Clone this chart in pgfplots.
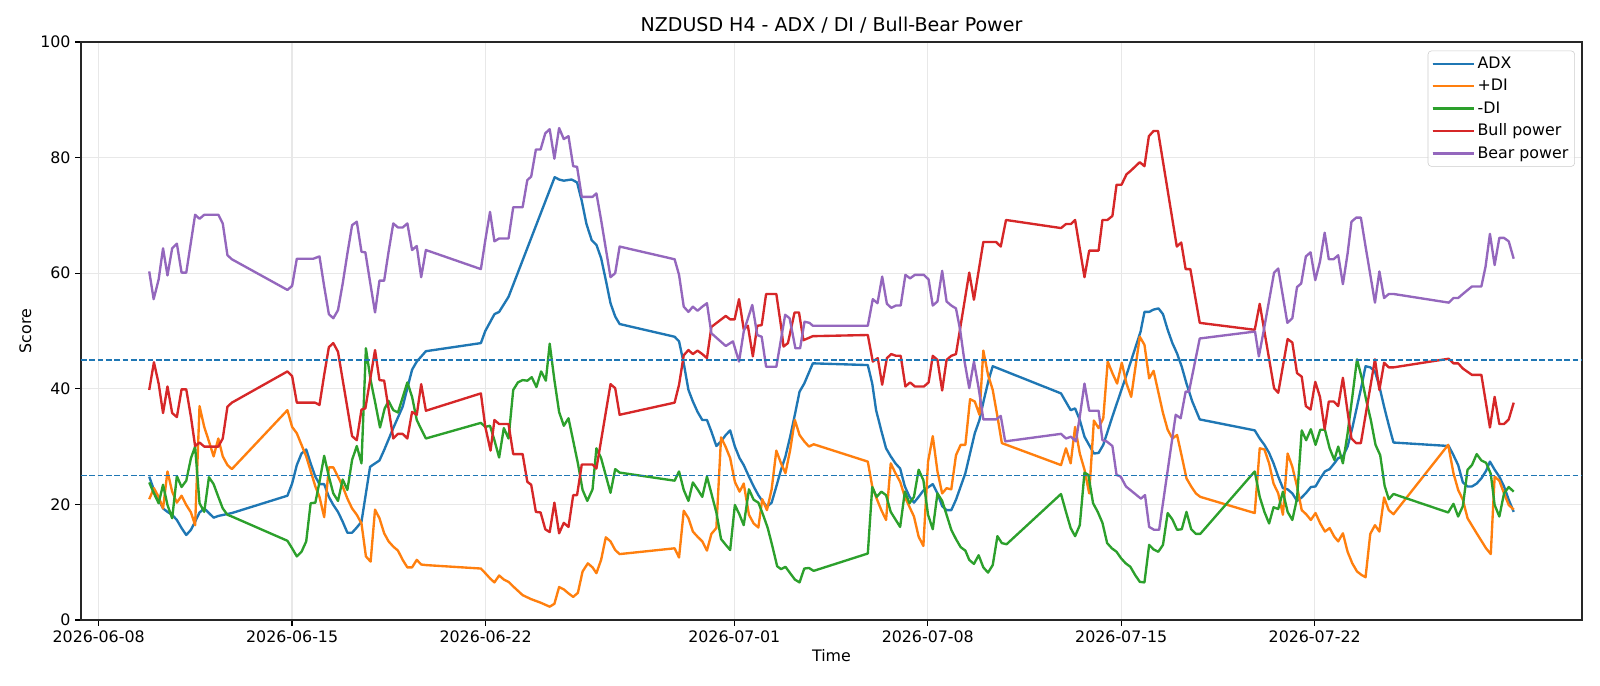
\documentclass[border=0pt]{standalone}
\usepackage{fontspec}
\setmainfont{DejaVu Sans}
\usepackage{pgfplots}
\pgfplotsset{compat=1.18}
\definecolor{tabblue}{HTML}{1F77B4}
\definecolor{taborange}{HTML}{FF7F0E}
\definecolor{tabgreen}{HTML}{2CA02C}
\definecolor{tabred}{HTML}{D62728}
\definecolor{tabpurple}{HTML}{9467BD}
\begin{document}
\begin{tikzpicture}
\useasboundingbox (-58.3pt,-47.5pt) rectangle (1093.7pt,446.4pt);
\begin{axis}[
  at={(0,0)}, anchor=south west,
  scale only axis, width=1080.7pt, height=416.2pt,
  xmin=-0.64, xmax=53.67, ymin=0, ymax=100,
  xtick={0,7,14,23,30,37,44},
  xticklabels={2026-06-08,2026-06-15,2026-06-22,2026-07-01,2026-07-08,2026-07-15,2026-07-22},
  ytick={0,20,40,60,80,100},
  tick pos=left, tick align=outside, major tick length=4pt,
  every tick/.style={black, line width=0.9pt},
  grid=major, major grid style={draw=black!9, line width=0.9pt},
  axis line style={line width=0.9pt, draw=black!85},
  ticklabel style={font=\fontsize{11.4}{13.7}\selectfont},
  /pgf/number format/assume math mode=true,
  every axis title shift=0pt,
  title={NZDUSD H4 - ADX / DI / Bull-Bear Power},
  title style={font=\fontsize{13.7}{16.4}\selectfont, at={(axis description cs:0.5,1.0286)}, anchor=center},
  xlabel={Time}, ylabel={Score},
  xlabel style={font=\fontsize{11.4}{13.7}\selectfont, at={(axis description cs:0.5,-0.0623)}, anchor=center},
  ylabel style={font=\fontsize{11.4}{13.7}\selectfont, at={(axis description cs:-0.037,0.5)}, anchor=center, rotate=0},
  legend style={at={(axis description cs:0.9953,0.985)}, anchor=north east,
    draw=black!20, rounded corners=2.5pt, fill=white, fill opacity=0.8, text opacity=1, draw opacity=1,
    font=\fontsize{11.4}{13.7}\selectfont, row sep=2.2pt, inner xsep=2.5pt, inner ysep=2.5pt},
  legend cell align=left,
  legend image code/.code={\draw[#1] (0pt,0pt) -- (25pt,0pt); \path (0pt,0pt) -- (29.5pt,0pt);},
  every axis plot/.append style={line width=1.7pt, line join=round},
]
\addplot[tabblue] coordinates {(1.83,24.8) (2.00,22.5) (2.17,20.8) (2.33,19.3) (2.49,18.7) (2.66,18.2) (2.83,17.3) (3.00,15.9) (3.17,14.7) (3.34,15.6) (3.49,17.0) (3.65,18.6) (3.82,19.3) (3.99,18.5) (4.16,17.7) (4.33,18.0) (4.82,18.5) (6.83,21.5) (7.00,23.6) (7.17,26.8) (7.34,28.8) (7.51,29.5) (7.67,27.1) (7.84,24.8) (7.99,23.5) (8.16,23.5) (8.33,21.3) (8.49,19.9) (8.66,18.7) (8.83,17.0) (9.00,15.1) (9.17,15.1) (9.34,16.0) (9.51,17.0) (9.82,26.5) (10.16,27.6) (10.33,29.4) (10.66,33.2) (11.00,36.9) (11.34,43.3) (11.51,44.7) (11.84,46.5) (13.83,47.9) (13.99,50.0) (14.32,52.9) (14.49,53.3) (14.66,54.6) (14.83,55.9) (16.50,76.6) (16.66,76.2) (16.83,76.0) (17.11,76.2) (17.31,75.7) (17.48,72.5) (17.65,68.5) (17.84,65.7) (18.01,64.9) (18.18,62.6) (18.35,58.8) (18.52,54.8) (18.69,52.5) (18.85,51.2) (20.84,49.0) (21.00,48.2) (21.17,44.4) (21.34,39.8) (21.50,37.8) (21.67,36.0) (21.84,34.6) (22.01,34.6) (22.17,32.6) (22.35,30.1) (22.52,30.9) (22.69,32.0) (22.85,32.8) (23.02,30.0) (23.19,28.0) (23.34,26.8) (23.53,24.8) (23.70,23.1) (23.87,21.6) (24.01,20.6) (24.18,19.6) (24.35,20.3) (24.52,23.1) (24.69,26.0) (24.85,28.3) (25.02,31.7) (25.19,35.5) (25.36,39.5) (25.53,40.9) (25.84,44.4) (27.83,44.1) (27.99,40.9) (28.13,36.3) (28.31,32.9) (28.49,29.7) (28.66,28.3) (28.83,27.1) (29.00,26.2) (29.17,23.1) (29.34,21.3) (29.50,20.3) (29.67,21.3) (29.84,22.4) (30.18,23.5) (30.35,21.9) (30.52,19.7) (30.68,19.0) (30.85,19.0) (31.02,20.8) (31.19,23.1) (31.36,25.4) (31.70,32.3) (31.87,34.6) (32.03,38.1) (32.20,41.5) (32.35,43.9) (34.82,39.2) (35.17,36.3) (35.33,36.6) (35.50,34.6) (35.67,31.7) (36.01,28.8) (36.18,28.9) (36.35,30.3) (36.68,35.2) (37.19,42.4) (37.70,49.9) (37.84,53.3) (38.01,53.3) (38.17,53.7) (38.35,53.9) (38.51,52.9) (38.68,50.2) (38.85,47.9) (39.02,46.1) (39.19,43.8) (39.36,40.9) (39.57,37.8) (39.84,34.7) (41.83,32.8) (42.01,31.4) (42.18,30.3) (42.35,28.9) (42.51,27.1) (42.68,24.8) (42.85,22.8) (43.02,22.6) (43.19,21.9) (43.36,20.6) (43.53,21.2) (43.69,22.0) (43.86,23.0) (44.03,23.1) (44.20,24.5) (44.37,25.7) (44.54,26.1) (44.71,27.1) (44.85,28.0) (45.02,28.3) (45.19,30.0) (45.36,33.2) (45.53,36.9) (45.69,40.4) (45.84,43.9) (46.01,43.7) (46.18,43.0) (46.34,40.4) (46.51,36.9) (46.68,33.7) (46.85,30.7) (48.85,30.1) (49.02,28.5) (49.19,26.8) (49.36,23.8) (49.53,23.1) (49.69,23.1) (49.86,23.6) (50.03,24.5) (50.20,25.8) (50.34,27.4) (50.51,26.0) (50.68,24.8) (50.85,23.1) (51.02,20.8) (51.20,18.7)};
\addlegendentry{ADX}
\addplot[taborange] coordinates {(1.83,20.9) (2.00,22.8) (2.17,21.3) (2.33,19.3) (2.49,25.7) (2.66,22.2) (2.83,20.3) (3.00,21.5) (3.17,19.9) (3.34,18.6) (3.49,16.4) (3.65,37.0) (3.82,33.4) (3.99,30.9) (4.16,28.3) (4.33,31.4) (4.49,28.3) (4.66,26.8) (4.82,26.1) (6.83,36.3) (7.00,33.4) (7.17,32.3) (7.34,30.3) (7.51,28.3) (7.84,23.1) (7.99,21.3) (8.16,17.8) (8.33,26.4) (8.49,26.4) (8.66,24.8) (8.83,23.1) (9.00,21.0) (9.17,19.3) (9.34,18.2) (9.51,16.7) (9.67,11.0) (9.84,10.1) (10.00,19.1) (10.16,17.6) (10.33,15.0) (10.49,13.6) (10.66,12.7) (10.83,12.0) (11.00,10.4) (11.17,9.1) (11.34,9.1) (11.51,10.4) (11.67,9.6) (11.84,9.5) (13.83,8.9) (13.99,8.1) (14.16,7.2) (14.32,6.5) (14.49,7.7) (14.66,7.0) (14.83,6.6) (15.00,5.8) (15.34,4.3) (15.65,3.6) (15.99,3.0) (16.32,2.3) (16.49,2.8) (16.66,5.7) (16.83,5.3) (17.00,4.6) (17.17,4.0) (17.34,4.7) (17.51,8.4) (17.70,9.8) (17.87,9.1) (18.01,8.1) (18.18,10.4) (18.35,14.3) (18.52,13.6) (18.69,12.1) (18.85,11.4) (20.84,12.4) (21.00,10.8) (21.17,18.9) (21.34,17.6) (21.50,15.3) (21.67,14.4) (21.84,13.6) (22.01,12.0) (22.17,14.9) (22.35,15.9) (22.52,31.6) (22.69,29.9) (22.85,28.0) (23.02,23.9) (23.19,22.2) (23.34,23.6) (23.53,18.2) (23.70,16.7) (23.87,16.0) (24.01,20.9) (24.18,19.0) (24.35,22.6) (24.52,29.3) (24.69,27.1) (24.85,25.4) (25.02,29.4) (25.19,34.6) (25.36,32.0) (25.53,30.9) (25.70,30.0) (25.87,30.4) (27.83,27.4) (27.99,23.1) (28.15,21.0) (28.32,19.0) (28.49,17.3) (28.66,27.1) (28.83,25.4) (29.00,23.9) (29.17,21.3) (29.50,17.9) (29.67,14.4) (29.84,12.8) (30.01,27.4) (30.18,31.8) (30.35,25.7) (30.52,21.9) (30.68,22.8) (30.85,22.6) (31.02,28.5) (31.19,30.3) (31.36,30.3) (31.53,38.2) (31.70,37.8) (31.87,35.5) (32.01,46.6) (32.18,42.4) (32.35,39.8) (32.52,35.2) (32.68,30.6) (34.82,26.8) (35.00,29.7) (35.17,27.1) (35.33,33.4) (35.50,28.8) (35.67,26.0) (35.84,21.9) (36.01,34.5) (36.18,33.2) (36.35,34.9) (36.51,44.7) (36.68,42.7) (36.85,40.9) (37.02,44.5) (37.19,40.9) (37.36,38.6) (37.67,49.0) (37.84,47.6) (38.01,41.8) (38.17,43.1) (38.51,35.8) (38.68,32.9) (38.85,31.4) (39.02,32.0) (39.19,28.3) (39.36,24.5) (39.53,23.1) (39.70,21.9) (39.86,21.3) (41.83,18.5) (42.01,29.7) (42.18,29.5) (42.35,27.1) (42.51,23.6) (42.68,21.9) (42.85,18.2) (43.02,28.8) (43.19,26.5) (43.36,23.1) (43.53,19.0) (43.69,18.3) (43.86,17.3) (44.03,18.5) (44.20,16.7) (44.37,15.3) (44.54,15.9) (44.71,14.4) (44.85,13.6) (45.02,15.0) (45.19,11.8) (45.36,9.8) (45.53,8.4) (45.69,7.8) (45.84,7.4) (46.01,14.9) (46.18,16.4) (46.34,15.3) (46.51,21.2) (46.68,19.0) (46.85,18.3) (48.83,30.3) (49.02,25.4) (49.19,22.5) (49.36,20.8) (49.53,17.6) (49.86,15.0) (50.20,12.4) (50.37,11.4) (50.51,24.8) (50.68,24.1) (50.85,21.9) (51.02,19.9) (51.20,19.1)};
\addlegendentry{+DI}
\addplot[tabgreen] coordinates {(1.83,23.8) (2.00,21.9) (2.17,20.2) (2.33,23.4) (2.49,19.9) (2.66,17.6) (2.83,24.9) (3.00,23.0) (3.17,24.1) (3.34,28.0) (3.49,30.0) (3.65,20.2) (3.82,18.7) (3.99,24.7) (4.16,23.5) (4.33,21.3) (4.49,19.3) (4.66,18.2) (4.82,17.9) (6.83,13.7) (7.00,12.4) (7.17,11.0) (7.34,11.8) (7.51,13.6) (7.67,20.2) (7.84,20.3) (7.99,23.9) (8.16,28.4) (8.33,24.8) (8.49,21.9) (8.66,20.6) (8.83,24.3) (9.00,22.5) (9.17,27.7) (9.34,30.1) (9.51,27.1) (9.67,47.0) (9.84,41.5) (10.01,37.5) (10.18,33.3) (10.35,36.6) (10.49,37.9) (10.66,36.3) (10.83,35.9) (11.17,41.1) (11.34,38.6) (11.51,34.6) (11.67,33.0) (11.84,31.4) (13.83,34.1) (13.99,33.4) (14.16,33.6) (14.32,31.1) (14.49,28.1) (14.66,33.2) (14.83,31.4) (15.00,39.8) (15.17,41.1) (15.34,41.5) (15.51,41.4) (15.67,42.0) (15.84,40.3) (16.01,43.0) (16.18,41.4) (16.32,47.8) (16.49,41.5) (16.66,36.0) (16.83,33.6) (17.00,34.9) (17.34,27.1) (17.51,22.5) (17.68,20.6) (17.87,22.6) (18.01,29.7) (18.18,28.0) (18.52,22.0) (18.69,26.1) (18.85,25.5) (20.84,24.1) (21.00,25.7) (21.17,22.5) (21.34,20.6) (21.50,23.8) (21.67,22.6) (21.84,21.3) (22.01,24.8) (22.17,21.9) (22.35,18.6) (22.52,14.0) (22.69,13.0) (22.85,12.1) (23.02,19.9) (23.19,18.2) (23.34,16.4) (23.53,22.6) (23.70,20.8) (23.87,20.3) (24.04,18.2) (24.21,15.9) (24.38,12.7) (24.55,9.3) (24.69,8.8) (24.85,9.2) (25.02,8.1) (25.19,7.0) (25.36,6.5) (25.53,8.9) (25.70,9.0) (25.87,8.5) (27.83,11.5) (27.99,23.0) (28.15,21.3) (28.32,22.2) (28.49,21.6) (28.66,18.7) (28.83,17.4) (29.00,16.1) (29.17,22.2) (29.34,20.2) (29.50,21.3) (29.67,26.0) (29.84,24.2) (30.01,18.2) (30.18,15.7) (30.35,21.9) (30.52,20.6) (30.68,18.2) (30.85,15.6) (31.02,14.0) (31.19,12.6) (31.36,12.0) (31.50,10.4) (31.67,9.7) (31.84,11.2) (32.01,9.1) (32.18,8.2) (32.35,9.5) (32.52,14.5) (32.68,13.3) (32.85,13.1) (34.82,21.8) (35.00,18.7) (35.17,15.9) (35.33,14.5) (35.50,16.4) (35.67,25.5) (35.81,25.1) (35.98,20.2) (36.15,18.7) (36.32,16.8) (36.49,13.3) (36.66,12.4) (36.83,11.8) (36.99,10.7) (37.16,9.8) (37.33,9.2) (37.50,7.8) (37.67,6.6) (37.84,6.5) (38.01,13.0) (38.17,12.2) (38.34,11.8) (38.51,13.0) (38.68,18.5) (38.85,17.4) (39.02,15.6) (39.19,15.7) (39.36,18.7) (39.53,15.7) (39.70,14.9) (39.86,14.9) (41.83,25.7) (42.01,21.3) (42.18,18.7) (42.35,16.7) (42.51,19.5) (42.68,19.2) (42.85,22.2) (43.02,18.7) (43.19,17.3) (43.36,21.0) (43.53,32.8) (43.69,31.1) (43.86,33.0) (44.03,30.3) (44.20,32.9) (44.37,32.9) (44.54,29.7) (44.71,27.7) (44.85,30.0) (45.02,27.1) (45.19,32.3) (45.36,38.6) (45.53,45.1) (45.69,42.1) (45.86,38.1) (46.03,34.6) (46.20,30.3) (46.37,28.5) (46.53,23.2) (46.68,20.9) (46.85,21.8) (48.83,18.6) (49.02,20.1) (49.19,17.9) (49.36,19.7) (49.53,26.0) (49.69,26.8) (49.86,28.7) (50.03,27.6) (50.20,27.2) (50.37,25.3) (50.51,19.9) (50.68,17.9) (50.85,21.9) (51.02,23.0) (51.20,22.2)};
\addlegendentry{-DI}
\addplot[tabred] coordinates {(1.83,39.8) (2.00,44.6) (2.17,40.9) (2.33,35.8) (2.49,40.4) (2.66,35.8) (2.83,35.1) (3.00,39.9) (3.17,39.9) (3.34,35.1) (3.49,30.1) (3.65,30.7) (3.82,30.0) (4.33,30.0) (4.49,31.4) (4.66,36.9) (4.82,37.6) (6.83,43.0) (7.00,42.2) (7.17,37.6) (7.83,37.6) (7.99,37.2) (8.16,42.4) (8.33,47.2) (8.49,47.9) (8.66,46.4) (9.17,31.8) (9.34,31.1) (9.51,36.4) (9.65,36.6) (9.82,41.5) (10.00,46.7) (10.16,41.5) (10.33,41.4) (10.66,31.4) (10.83,32.2) (11.00,32.2) (11.17,31.4) (11.34,36.0) (11.51,35.5) (11.67,40.8) (11.84,36.2) (13.83,39.2) (13.99,33.4) (14.18,29.3) (14.32,34.6) (14.49,33.9) (14.83,33.9) (15.00,28.7) (15.34,28.7) (15.51,23.9) (15.65,23.4) (15.82,18.7) (15.99,18.6) (16.16,15.7) (16.32,15.2) (16.49,20.3) (16.66,15.0) (16.83,16.8) (17.00,16.1) (17.17,21.6) (17.31,21.6) (17.48,26.9) (17.87,26.9) (18.01,26.2) (18.52,40.8) (18.69,40.1) (18.85,35.5) (20.84,37.6) (21.00,40.7) (21.17,45.8) (21.34,46.7) (21.50,46.0) (21.67,46.6) (21.84,46.0) (22.01,45.3) (22.17,50.7) (22.69,52.6) (22.85,52.0) (23.01,52.0) (23.17,55.5) (23.34,50.3) (23.49,50.9) (23.67,45.6) (23.83,50.9) (23.99,51.0) (24.15,56.4) (24.52,56.4) (24.70,50.5) (24.78,47.3) (24.94,47.9) (25.18,53.2) (25.34,53.2) (25.50,48.4) (25.84,49.1) (27.83,49.3) (28.01,44.7) (28.19,45.3) (28.35,40.7) (28.52,45.3) (28.68,46.0) (28.85,45.7) (29.02,45.7) (29.19,40.4) (29.36,41.1) (29.53,40.4) (29.86,40.4) (30.03,41.1) (30.18,45.7) (30.35,45.0) (30.52,39.7) (30.68,45.0) (30.85,45.7) (31.02,46.0) (31.50,60.1) (31.67,55.4) (32.01,65.4) (32.47,65.4) (32.64,64.6) (32.83,69.2) (34.82,67.8) (35.00,68.5) (35.18,68.5) (35.33,69.2) (35.67,59.3) (35.84,63.9) (36.18,63.9) (36.32,69.2) (36.50,69.2) (36.68,69.9) (36.83,75.3) (37.01,75.3) (37.19,77.1) (37.34,77.7) (37.67,79.2) (37.84,78.5) (38.00,83.7) (38.17,84.6) (38.33,84.6) (39.01,64.6) (39.17,65.3) (39.33,60.7) (39.50,60.7) (39.84,51.4) (41.83,50.2) (42.01,54.7) (42.17,50.2) (42.53,40.1) (42.68,39.3) (43.02,48.6) (43.19,48.0) (43.36,42.7) (43.53,42.1) (43.68,37.0) (43.85,36.4) (44.02,41.2) (44.19,38.6) (44.36,33.0) (44.51,37.8) (44.69,37.8) (44.85,37.0) (45.02,41.9) (45.19,36.0) (45.33,31.4) (45.50,30.6) (45.67,30.6) (46.18,45.1) (46.34,39.8) (46.51,44.5) (46.68,43.7) (46.85,43.7) (48.85,45.2) (49.02,44.4) (49.19,44.4) (49.36,43.5) (49.69,42.4) (50.03,42.4) (50.34,33.3) (50.51,38.6) (50.68,33.9) (50.85,33.9) (51.02,34.7) (51.20,37.6)};
\addlegendentry{Bull power}
\addplot[tabpurple] coordinates {(1.83,60.3) (1.99,55.5) (2.17,58.9) (2.33,64.3) (2.49,59.6) (2.66,64.3) (2.83,65.1) (3.00,60.1) (3.17,60.1) (3.49,70.1) (3.65,69.4) (3.82,70.1) (4.33,70.1) (4.49,68.6) (4.66,63.1) (4.82,62.4) (6.83,57.1) (7.00,57.8) (7.17,62.5) (7.77,62.5) (7.99,62.9) (8.16,57.7) (8.33,52.9) (8.49,52.2) (8.66,53.6) (8.83,58.2) (9.00,63.4) (9.17,68.3) (9.34,68.9) (9.51,63.7) (9.65,63.6) (9.82,58.5) (10.00,53.2) (10.16,58.7) (10.33,58.7) (10.49,63.7) (10.66,68.6) (10.83,67.9) (11.00,67.9) (11.17,68.6) (11.34,64.0) (11.51,64.7) (11.67,59.3) (11.84,64.0) (13.83,60.7) (13.99,65.7) (14.16,70.6) (14.32,65.5) (14.49,66.0) (14.83,66.0) (15.00,71.4) (15.34,71.4) (15.51,76.1) (15.65,76.7) (15.82,81.4) (15.99,81.4) (16.16,84.2) (16.32,84.9) (16.49,79.8) (16.66,85.1) (16.83,83.2) (17.00,83.7) (17.17,78.5) (17.31,78.4) (17.48,73.2) (17.87,73.2) (18.01,73.8) (18.18,69.2) (18.52,59.3) (18.69,60.0) (18.85,64.6) (20.84,62.4) (21.00,59.7) (21.17,54.2) (21.34,53.3) (21.50,54.2) (21.67,53.5) (21.84,54.2) (22.01,54.8) (22.17,49.6) (22.69,47.4) (22.95,48.2) (23.17,44.7) (23.34,49.9) (23.65,54.5) (23.83,49.3) (23.99,49.0) (24.15,43.8) (24.52,43.8) (24.84,52.8) (25.00,52.2) (25.21,47.0) (25.38,47.0) (25.54,51.6) (25.72,51.4) (25.84,50.9) (27.83,50.9) (28.01,55.5) (28.18,54.8) (28.35,59.4) (28.52,54.7) (28.68,54.0) (28.85,54.4) (29.02,54.4) (29.19,59.7) (29.36,59.1) (29.53,59.7) (29.86,59.7) (30.03,58.9) (30.18,54.4) (30.35,55.1) (30.52,60.4) (30.68,55.1) (30.85,54.4) (31.02,53.9) (31.17,50.2) (31.32,45.0) (31.50,40.1) (31.67,44.7) (31.84,40.1) (32.01,34.7) (32.47,34.7) (32.64,35.3) (32.80,30.9) (34.82,32.2) (35.00,31.4) (35.18,31.7) (35.36,30.9) (35.50,35.2) (35.67,40.9) (35.84,36.2) (36.18,36.2) (36.32,31.1) (36.47,30.9) (36.68,30.1) (36.83,25.1) (36.98,24.8) (37.17,23.1) (37.71,21.0) (37.86,21.6) (38.01,16.1) (38.19,15.6) (38.37,15.6) (38.97,35.5) (39.15,34.9) (39.33,39.5) (39.45,39.5) (39.84,48.7) (41.84,49.9) (41.98,45.6) (42.16,50.2) (42.53,60.1) (42.68,60.8) (43.01,51.4) (43.19,52.2) (43.36,57.6) (43.51,58.2) (43.68,62.9) (43.85,63.6) (44.02,58.8) (44.19,62.0) (44.36,67.0) (44.51,62.4) (44.68,62.4) (44.85,63.1) (45.02,58.1) (45.19,63.4) (45.33,68.9) (45.50,69.6) (45.67,69.6) (45.84,64.6) (46.18,54.9) (46.34,60.3) (46.51,55.7) (46.68,56.4) (46.85,56.4) (48.85,54.9) (49.02,55.7) (49.19,55.7) (49.36,56.4) (49.69,57.7) (50.03,57.7) (50.18,61.1) (50.34,66.8) (50.51,61.4) (50.68,66.1) (50.85,66.1) (51.02,65.5) (51.20,62.5)};
\addlegendentry{Bear power}
\addplot[tabblue, line width=1.1pt, dash pattern=on 4.2pt off 1.8pt, forget plot] coordinates {(-0.64,45) (53.67,45)};
\addplot[tabblue, line width=1.1pt, dash pattern=on 4.2pt off 1.8pt, forget plot] coordinates {(-0.64,25) (53.67,25)};
\end{axis}
\end{tikzpicture}
\end{document}
